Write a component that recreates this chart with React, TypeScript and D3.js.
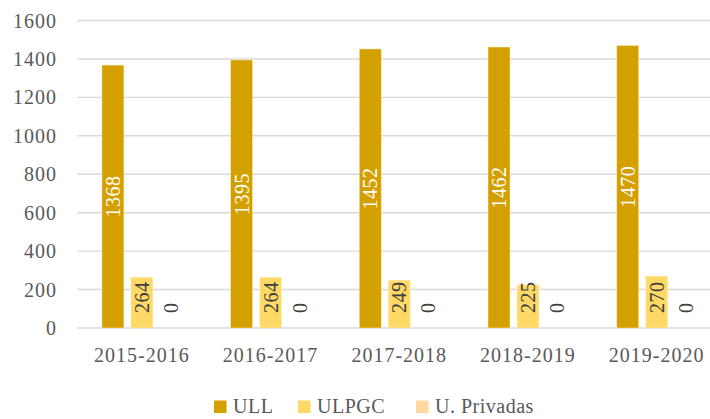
import React from "react";
import * as d3 from "d3";

const categories = ["2015-2016", "2016-2017", "2017-2018", "2018-2019", "2019-2020"];
const seriesNames = ["ULL", "ULPGC", "U. Privadas"];
const ull = [1368, 1395, 1452, 1462, 1470];
const ulpgc = [264, 264, 249, 225, 270];
const privadas = [0, 0, 0, 0, 0];
const yTicks = [0, 200, 400, 600, 800, 1000, 1200, 1400, 1600];

const colors = ["#D4A000", "#FFD966", "#FFD9A0"];
const labelColors = ["#FFFFFF", "#404040", "#404040"];
const FONT = "Liberation Serif, DejaVu Serif";

export default function App() {
  const W = 710, H = 419;
  const series = [ull, ulpgc, privadas];
  const x = d3.scaleBand<string>().domain(categories).range([77.5, 721]).paddingInner(0).paddingOuter(0);
  const y = d3.scaleLinear().domain([0, 1600]).range([328, 20.5]);
  const inner = d3.scaleBand<number>().domain([0, 1, 2]).range([24.4, 24.4 + 80]).paddingInner(7 / 29);
  const legendItems = [
    { sq: 214, tx: 233 },
    { sq: 298, tx: 317 },
    { sq: 416, tx: 435 },
  ];
  const ts = { fontFamily: FONT } as React.CSSProperties;
  return (
    <svg width={W} height={H} style={{ position: "absolute", left: 0, top: 0 }}>
      <rect width={W} height={H} fill="#fff" />
      {yTicks.map((t) => (
        <g key={t}>
          <line x1={77.5} x2={W} y1={y(t)} y2={y(t)} stroke="#D9D9D9" strokeWidth={1.4} />
          <text style={ts} x={57} y={y(t)} dy="0.35em" textAnchor="end" fontSize={20} letterSpacing={1} fill="#595959">{t}</text>
        </g>
      ))}
      {categories.map((c, i) => (
        <g key={c}>
          {series.map((s, j) => {
            const bx = (x(c) as number) + (inner(j) as number);
            const bw = inner.bandwidth();
            const v = s[i];
            const cx = bx + bw / 2;
            const ly = j === 0 ? (y(v) + y(0)) / 2 : 313;
            return (
              <g key={j}>
                {v > 0 && (
                  <rect x={bx} y={y(v)} width={bw} height={y(0) - y(v)} fill={colors[j]} stroke="#FFF4D0" strokeOpacity={0.6} strokeWidth={0.8} />
                )}
                <text
                  style={ts}
                  transform={`translate(${cx},${ly}) rotate(-90)`}
                  textAnchor={j === 0 ? "middle" : "start"}
                  dy="0.35em"
                  fontSize={20}
                  letterSpacing={0.5}
                  fill={labelColors[j]}
                >
                  {v}
                </text>
              </g>
            );
          })}
          <text style={ts} x={(x(c) as number) + x.bandwidth() / 2} y={362} textAnchor="middle" fontSize={20} letterSpacing={1} fill="#595959">{c}</text>
        </g>
      ))}
      {seriesNames.map((n, j) => (
        <g key={n}>
          <rect x={legendItems[j].sq} y={400.5} width={12.5} height={12.5} fill={colors[j]} />
          <text style={ts} x={legendItems[j].tx} y={413} fontSize={20} letterSpacing={0.5} fill="#595959">{n}</text>
        </g>
      ))}
    </svg>
  );
}
